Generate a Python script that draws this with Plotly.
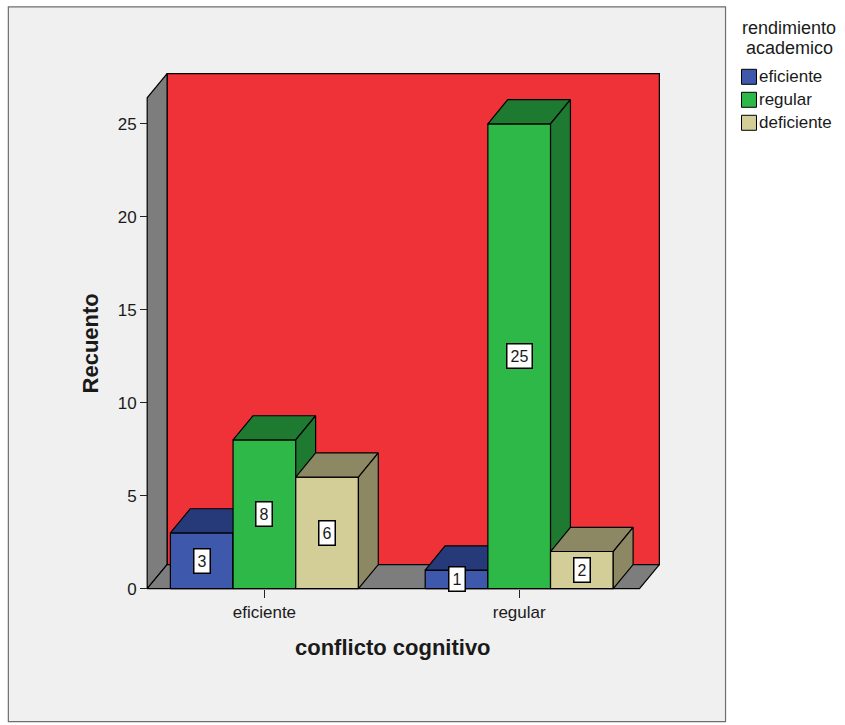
import plotly.graph_objects as go

# ---- data -------------------------------------------------------------
categories = ["eficiente", "regular"]              # conflicto cognitivo
series_names = ["eficiente", "regular", "deficiente"]  # rendimiento academico
eficiente_counts = [3, 1]
regular_counts = [8, 25]
deficiente_counts = [6, 2]
y_tick_values = [0, 5, 10, 15, 20, 25]

series_counts = [eficiente_counts, regular_counts, deficiente_counts]

# ---- styling ------------------------------------------------------------
FRONT = ["#3E58AC", "#2EB848", "#D3CE97"]
SHADE = ["#263A7A", "#1E7A30", "#8C8864"]
WALL_RED = "#EF3238"
WALL_GRAY = "#7D7D7D"
FONT = "Liberation Sans, Arial, sans-serif"
TXT = "#1a1a1a"

# ---- geometry (data units) ----------------------------------------------
X_RANGE = [-0.50, 1.58]
Y_RANGE = [-0.5, 28.0]
X_LEFT, X_RIGHT = -0.46, 1.472     # front edges of the floor
Y_TOP = 26.4                       # top of the walls
DX, DY = 0.078, 1.3                # depth offset of the 3D box
BAR_W = 0.246

W, H = 845, 725
ML, MT = 136.8, 68.2
PW, PH = 530.6, 530.1
PLOT_BOTTOM = MT + PH


def paper_x(px):
    return (px - ML) / PW


def paper_y(py):
    return (PLOT_BOTTOM - py) / PH


def poly(xs, ys, fill):
    return go.Scatter(
        x=xs + [xs[0]], y=ys + [ys[0]], mode="lines", fill="toself",
        fillcolor=fill, line=dict(color="#000000", width=1.2),
        hoverinfo="skip", showlegend=False,
    )


fig = go.Figure()

# back wall, side wall and floor
fig.add_trace(poly([X_LEFT + DX, X_RIGHT + DX, X_RIGHT + DX, X_LEFT + DX],
                   [DY, DY, Y_TOP + DY, Y_TOP + DY], WALL_RED))
fig.add_trace(poly([X_LEFT, X_LEFT, X_LEFT + DX, X_LEFT + DX],
                   [0, Y_TOP, Y_TOP + DY, DY], WALL_GRAY))
fig.add_trace(poly([X_LEFT, X_RIGHT, X_RIGHT + DX, X_LEFT + DX],
                   [0, 0, DY, DY], WALL_GRAY))

# clustered 3D bars, drawn left to right so nearer faces cover hidden ones
n = len(series_counts)
annotations = []
for ci, cat in enumerate(categories):
    for si in range(n):
        h = series_counts[si][ci]
        xc = ci + (si - (n - 1) / 2) * BAR_W
        x0, x1 = xc - BAR_W / 2, xc + BAR_W / 2
        fig.add_trace(poly([x0, x1, x1, x0], [0, 0, h, h], FRONT[si]))
        fig.add_trace(poly([x0, x1, x1 + DX, x0 + DX], [h, h, h + DY, h + DY], SHADE[si]))
        fig.add_trace(poly([x1, x1 + DX, x1 + DX, x1], [0, DY, h + DY, h], SHADE[si]))
        annotations.append(dict(
            x=xc, y=h / 2, xref="x", yref="y", text=str(h), showarrow=False,
            xanchor="center", yanchor="middle",
            font=dict(family=FONT, size=16, color=TXT),
            bgcolor="#FFFFFF", bordercolor="#000000", borderwidth=1.5, borderpad=3,
        ))

# axis titles
annotations.append(dict(
    x=(X_LEFT + X_RIGHT) / 2, y=paper_y(648), xref="x", yref="paper",
    xanchor="center", yanchor="middle",
    text="<b>conflicto cognitivo</b>", showarrow=False,
    font=dict(family=FONT, size=22, color=TXT),
))
annotations.append(dict(
    x=paper_x(90), y=Y_TOP / 2, xref="paper", yref="y",
    xanchor="center", yanchor="middle",
    text="<b>Recuento</b>", showarrow=False, textangle=-90,
    font=dict(family=FONT, size=22, color=TXT),
))

# legend
for line_text, cy in (("rendimiento", 28), ("academico", 48)):
    annotations.append(dict(
        x=paper_x(790), y=paper_y(cy), xref="paper", yref="paper",
        xanchor="center", yanchor="middle", text=line_text, showarrow=False,
        font=dict(family=FONT, size=18, color=TXT),
    ))
shapes = [dict(
    type="rect", xref="paper", yref="paper", layer="below",
    x0=paper_x(8), x1=paper_x(726), y0=paper_y(722), y1=paper_y(7),
    fillcolor="#F0F0F0", line=dict(color="#6E6E6E", width=1.2),
)]
for si, name in enumerate(series_names):
    cy = 77 + si * 23
    shapes.append(dict(
        type="rect", xref="paper", yref="paper",
        x0=paper_x(742), x1=paper_x(757), y0=paper_y(cy + 7.5), y1=paper_y(cy - 7.5),
        fillcolor=FRONT[si], line=dict(color="#000000", width=1),
    ))
    annotations.append(dict(
        x=paper_x(758), y=paper_y(cy), xref="paper", yref="paper",
        xanchor="left", yanchor="middle", text=name, showarrow=False,
        font=dict(family=FONT, size=17, color=TXT),
    ))

fig.update_layout(
    width=W, height=H,
    margin=dict(l=ML, r=W - ML - PW, t=MT, b=H - MT - PH, autoexpand=False),
    paper_bgcolor="#FFFFFF", plot_bgcolor="rgba(0,0,0,0)",
    showlegend=False,
    shapes=shapes, annotations=annotations,
    xaxis=dict(
        type="linear", range=X_RANGE, anchor="free",
        position=(0 - Y_RANGE[0]) / (Y_RANGE[1] - Y_RANGE[0]),
        tickvals=list(range(len(categories))), ticktext=categories,
        ticks="outside", ticklen=8, tickwidth=1, tickcolor="#222222",
        showgrid=False, zeroline=False, showline=False,
        tickfont=dict(family=FONT, size=17, color=TXT),
    ),
    yaxis=dict(
        range=Y_RANGE, anchor="free",
        position=(X_LEFT - X_RANGE[0]) / (X_RANGE[1] - X_RANGE[0]),
        tickvals=y_tick_values, ticks="outside", ticklen=7, tickwidth=1,
        tickcolor="#222222", showgrid=False, zeroline=False, showline=False,
        tickfont=dict(family=FONT, size=17, color=TXT),
    ),
)

fig.write_html("out.html")
